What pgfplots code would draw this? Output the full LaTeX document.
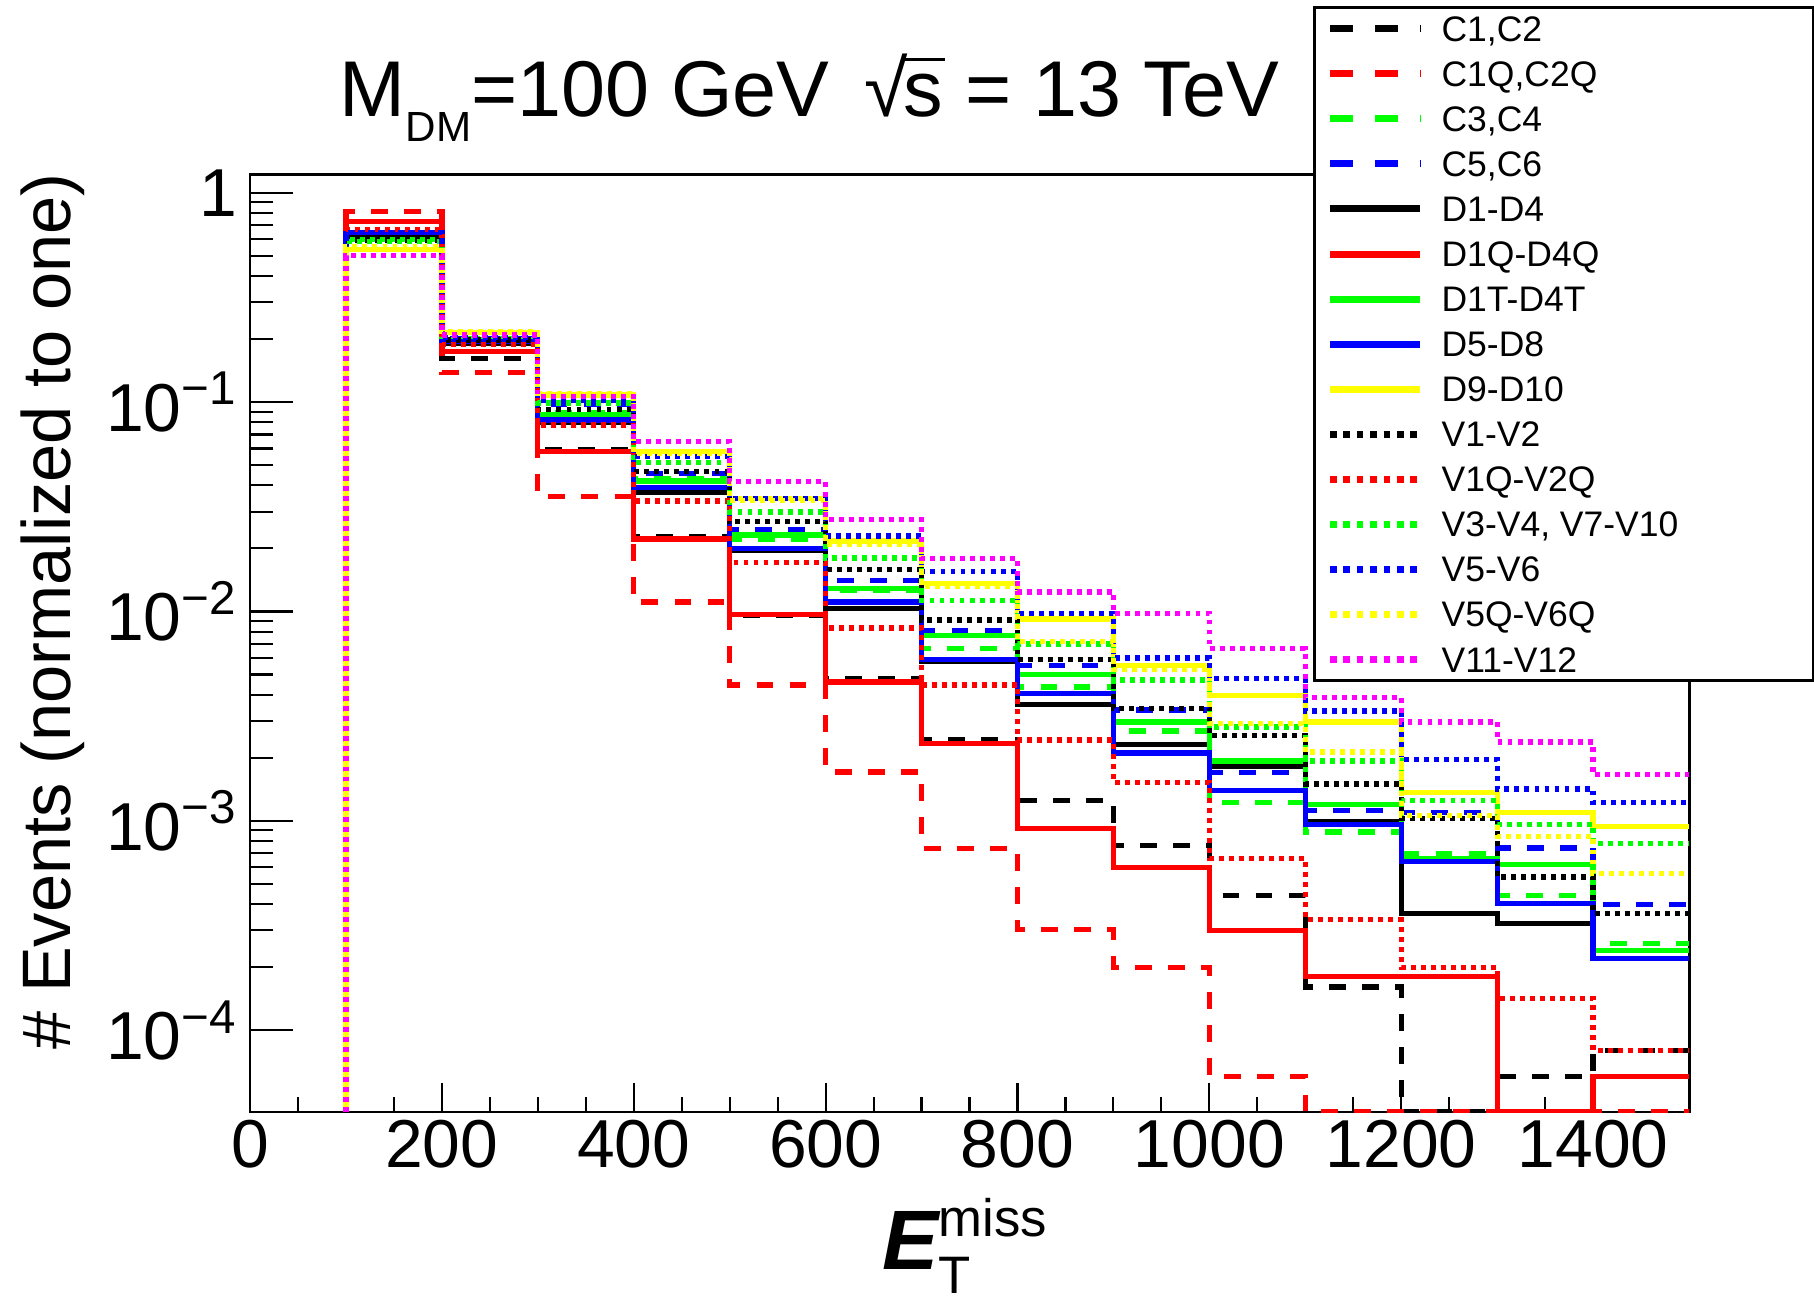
\documentclass[border=0pt]{standalone}
\usepackage{fontspec}
\setmainfont{Liberation Sans}
\usepackage{pgfplots}
\usepackage{pgfplotstable}
\pgfplotsset{compat=1.18}

% bin low edge x; value of the bin [x, x+100); 4.07e-5 = empty bin (axis floor)
\pgfplotstableread{
x    c1       c1q      c3       c5       d1       d1q      d1t      d5       d9       v1       v1q      v3       v5       v5q      v11
100  4.07e-5  4.07e-5  4.07e-5  4.07e-5  4.07e-5  4.07e-5  4.07e-5  4.07e-5  4.07e-5  4.07e-5  4.07e-5  4.07e-5  4.07e-5  4.07e-5  4.07e-5
100  0.62     0.81     0.60     0.645    0.62     0.73     0.60     0.645    0.535    0.595    0.665    0.585    0.645    0.55     0.50
200  0.162    0.139    0.200    0.200    0.190    0.174    0.198    0.195    0.215    0.198    0.188    0.205    0.203    0.217    0.209
300  0.059    0.0353   0.089    0.098    0.080    0.058    0.0867   0.082    0.108    0.0923   0.0777   0.099    0.102    0.110    0.106
400  0.0227   0.0111   0.043    0.0455   0.037    0.0222   0.042    0.0391   0.058    0.0465   0.0337   0.0513   0.055    0.057    0.0646
500  0.0096   0.00445  0.022    0.0245   0.0196   0.0097   0.0232   0.020    0.0347   0.027    0.0171   0.0299   0.0347   0.034    0.0416
600  0.00478  0.00171  0.0126   0.0141   0.0103   0.00461  0.0129   0.0111   0.0217   0.0159   0.00835  0.018    0.0229   0.021    0.0275
700  0.00243  0.00074  0.00665  0.0081   0.0058   0.00234  0.0077   0.0059   0.0136   0.0091   0.00445  0.0113   0.0155   0.0132   0.0179
800  0.00125  0.000303 0.00436  0.0055   0.0036   0.00092  0.0050   0.00406  0.0092   0.0059   0.00243  0.0070   0.0098   0.0072   0.0124
900  0.00076  0.0002   0.00269  0.00338  0.00232  0.0006   0.00297  0.00211  0.0055   0.00344  0.00153  0.0047   0.0060   0.0053   0.0098
1000 0.00044  6.0e-5   0.00122  0.0017   0.00182  0.0003   0.00193  0.0014   0.00398  0.00256  0.00066  0.00281  0.00478  0.00292  0.00665
1100 0.000161 4.07e-5  0.000885 0.00112  0.00099  0.000181 0.0012   0.00096  0.00297  0.0015   0.000337 0.00193  0.00335  0.00213  0.00388
1200 4.07e-5  4.07e-5  0.000698 0.0011   0.00036  0.000181 0.00066  0.000641 0.00137  0.00103  0.0002   0.00125  0.00197  0.00106  0.00297
1300 6.0e-5   4.07e-5  0.000441 0.000743 0.000323 4.07e-5  0.00062  0.000403 0.0011   0.00054  0.000142 0.00096  0.00142  0.000844 0.00238
1400 8.0e-5   4.07e-5  0.00026  0.0004   0.00024  6.0e-5   0.00024  0.00022  0.00094  0.00036  8.0e-5   0.00078  0.00122  0.00056  0.00166
1500 8.0e-5   4.07e-5  0.00026  0.0004   0.00024  6.0e-5   0.00024  0.00022  0.00094  0.00036  8.0e-5   0.00078  0.00122  0.00056  0.00166
}\histdata

\definecolor{rred}{RGB}{255,0,0}
\definecolor{rgreen}{RGB}{0,255,0}
\definecolor{rblue}{RGB}{0,0,255}
\definecolor{ryellow}{RGB}{255,255,0}
\definecolor{rmagenta}{RGB}{255,0,255}

\pgfplotsset{
  hdash/.style={line width=1.5pt, dash pattern=on 4.8pt off 4.6pt,
    legend image post style={dash pattern=on 6.5pt off 6.3pt}},
  hsolid/.style={line width=1.5pt, solid},
  hdot/.style={line width=1.5pt, dash pattern=on 1.4pt off 1.45pt,
    legend image post style={dash pattern=on 1.9pt off 1.9pt}},
}
\newcommand{\legtext}[1]{\makebox[3.60cm][l]{\rule[-0.06cm]{0pt}{0.36cm}#1}}

\begin{document}
\begin{tikzpicture}
\useasboundingbox (0,0) rectangle (18.14cm,13.00cm);
\begin{axis}[
  at={(2.50cm,1.88cm)}, anchor=south west,
  scale only axis, width=14.39cm, height=9.37cm,
  xmin=0, xmax=1500,
  ymode=log, ymin=4.07e-5, ymax=1.215,
  xtick={0,200,400,600,800,1000,1200,1400},
  xticklabels={0,200,400,600,800,1000,1200,1400},
  minor x tick num=3,
  ytick={1e-4,1e-3,1e-2,1e-1,1},
  yticklabels={10\textsuperscript{−4},10\textsuperscript{−3},10\textsuperscript{−2},10\textsuperscript{−1},1},
  tick align=inside,
  xtick pos=left, ytick pos=left,
  axis line style={line width=0.85pt},
  tick style={line width=0.6pt, black},
  major tick length=0.43cm, minor tick length=0.23cm,
  xtick style={/pgfplots/major tick length=0.29cm, /pgfplots/minor tick length=0.15cm},
  tick label style={font=\fontsize{19.3pt}{23pt}\selectfont},
  xticklabel style={yshift=0.045cm},
  legend style={at={(rel axis cs:0.7387,1.1804)}, anchor=north west,
    draw=black, line width=0.9pt, fill=white,
    inner xsep=0.12cm, inner ysep=0.035cm,
    row sep=0.098cm, column sep=0.18cm,
    font=\fontsize{10.1pt}{12pt}\selectfont,
    nodes={inner sep=0pt, outer sep=0pt}},
  legend cell align=left,
  legend image code/.code={\path (0cm,0cm) (0.9cm,0.1cm); \draw[#1, line width=2pt] (0cm,0cm) -- (0.9cm,0cm);},
  every axis plot/.append style={const plot, no marks, line cap=butt},
]
\addplot[hdash, black]    table[x=x, y=c1]  {\histdata}; \addlegendentry{\legtext{C1,C2}}
\addplot[hdash, rred]     table[x=x, y=c1q] {\histdata}; \addlegendentry{\legtext{C1Q,C2Q}}
\addplot[hdash, rgreen]   table[x=x, y=c3]  {\histdata}; \addlegendentry{\legtext{C3,C4}}
\addplot[hdash, rblue]    table[x=x, y=c5]  {\histdata}; \addlegendentry{\legtext{C5,C6}}
\addplot[hsolid, black]   table[x=x, y=d1]  {\histdata}; \addlegendentry{\legtext{D1-D4}}
\addplot[hsolid, rred]    table[x=x, y=d1q] {\histdata}; \addlegendentry{\legtext{D1Q-D4Q}}
\addplot[hsolid, rgreen]  table[x=x, y=d1t] {\histdata}; \addlegendentry{\legtext{D1T-D4T}}
\addplot[hsolid, rblue]   table[x=x, y=d5]  {\histdata}; \addlegendentry{\legtext{D5-D8}}
\addplot[hsolid, ryellow] table[x=x, y=d9]  {\histdata}; \addlegendentry{\legtext{D9-D10}}
\addplot[hdot, black]     table[x=x, y=v1]  {\histdata}; \addlegendentry{\legtext{V1-V2}}
\addplot[hdot, rred]      table[x=x, y=v1q] {\histdata}; \addlegendentry{\legtext{V1Q-V2Q}}
\addplot[hdot, rgreen]    table[x=x, y=v3]  {\histdata}; \addlegendentry{\legtext{V3-V4, V7-V10}}
\addplot[hdot, rblue]     table[x=x, y=v5]  {\histdata}; \addlegendentry{\legtext{V5-V6}}
\addplot[hdot, ryellow]   table[x=x, y=v5q] {\histdata}; \addlegendentry{\legtext{V5Q-V6Q}}
\addplot[hdot, rmagenta]  table[x=x, y=v11] {\histdata}; \addlegendentry{\legtext{V11-V12}}
\end{axis}
% title
\node[anchor=base west, inner sep=0pt, font=\fontsize{22.5pt}{27pt}\selectfont]
  at (3.39cm,11.833cm)
  {M\raisebox{-0.25cm}{\fontsize{12pt}{14pt}\selectfont DM}=100 GeV\hspace{0.45em}√\kern-0.06em\rlap{\rule[0.70em]{0.52em}{0.045em}}s = 13 TeV};
% y title
\node[rotate=90, anchor=north east, inner sep=0pt, font=\fontsize{19.5pt}{23pt}\selectfont]
  at (0.20cm,11.27cm) {\# Events (normalized to one)};
% x title
\node[anchor=base west, inner sep=0pt] at (8.82cm,0.30cm)
  {\fontsize{24pt}{28pt}\selectfont\bfseries\itshape E\normalfont\fontsize{15pt}{18pt}\selectfont\rlap{\raisebox{-0.24cm}{T}}\raisebox{0.33cm}{miss}};
\end{tikzpicture}
\end{document}
